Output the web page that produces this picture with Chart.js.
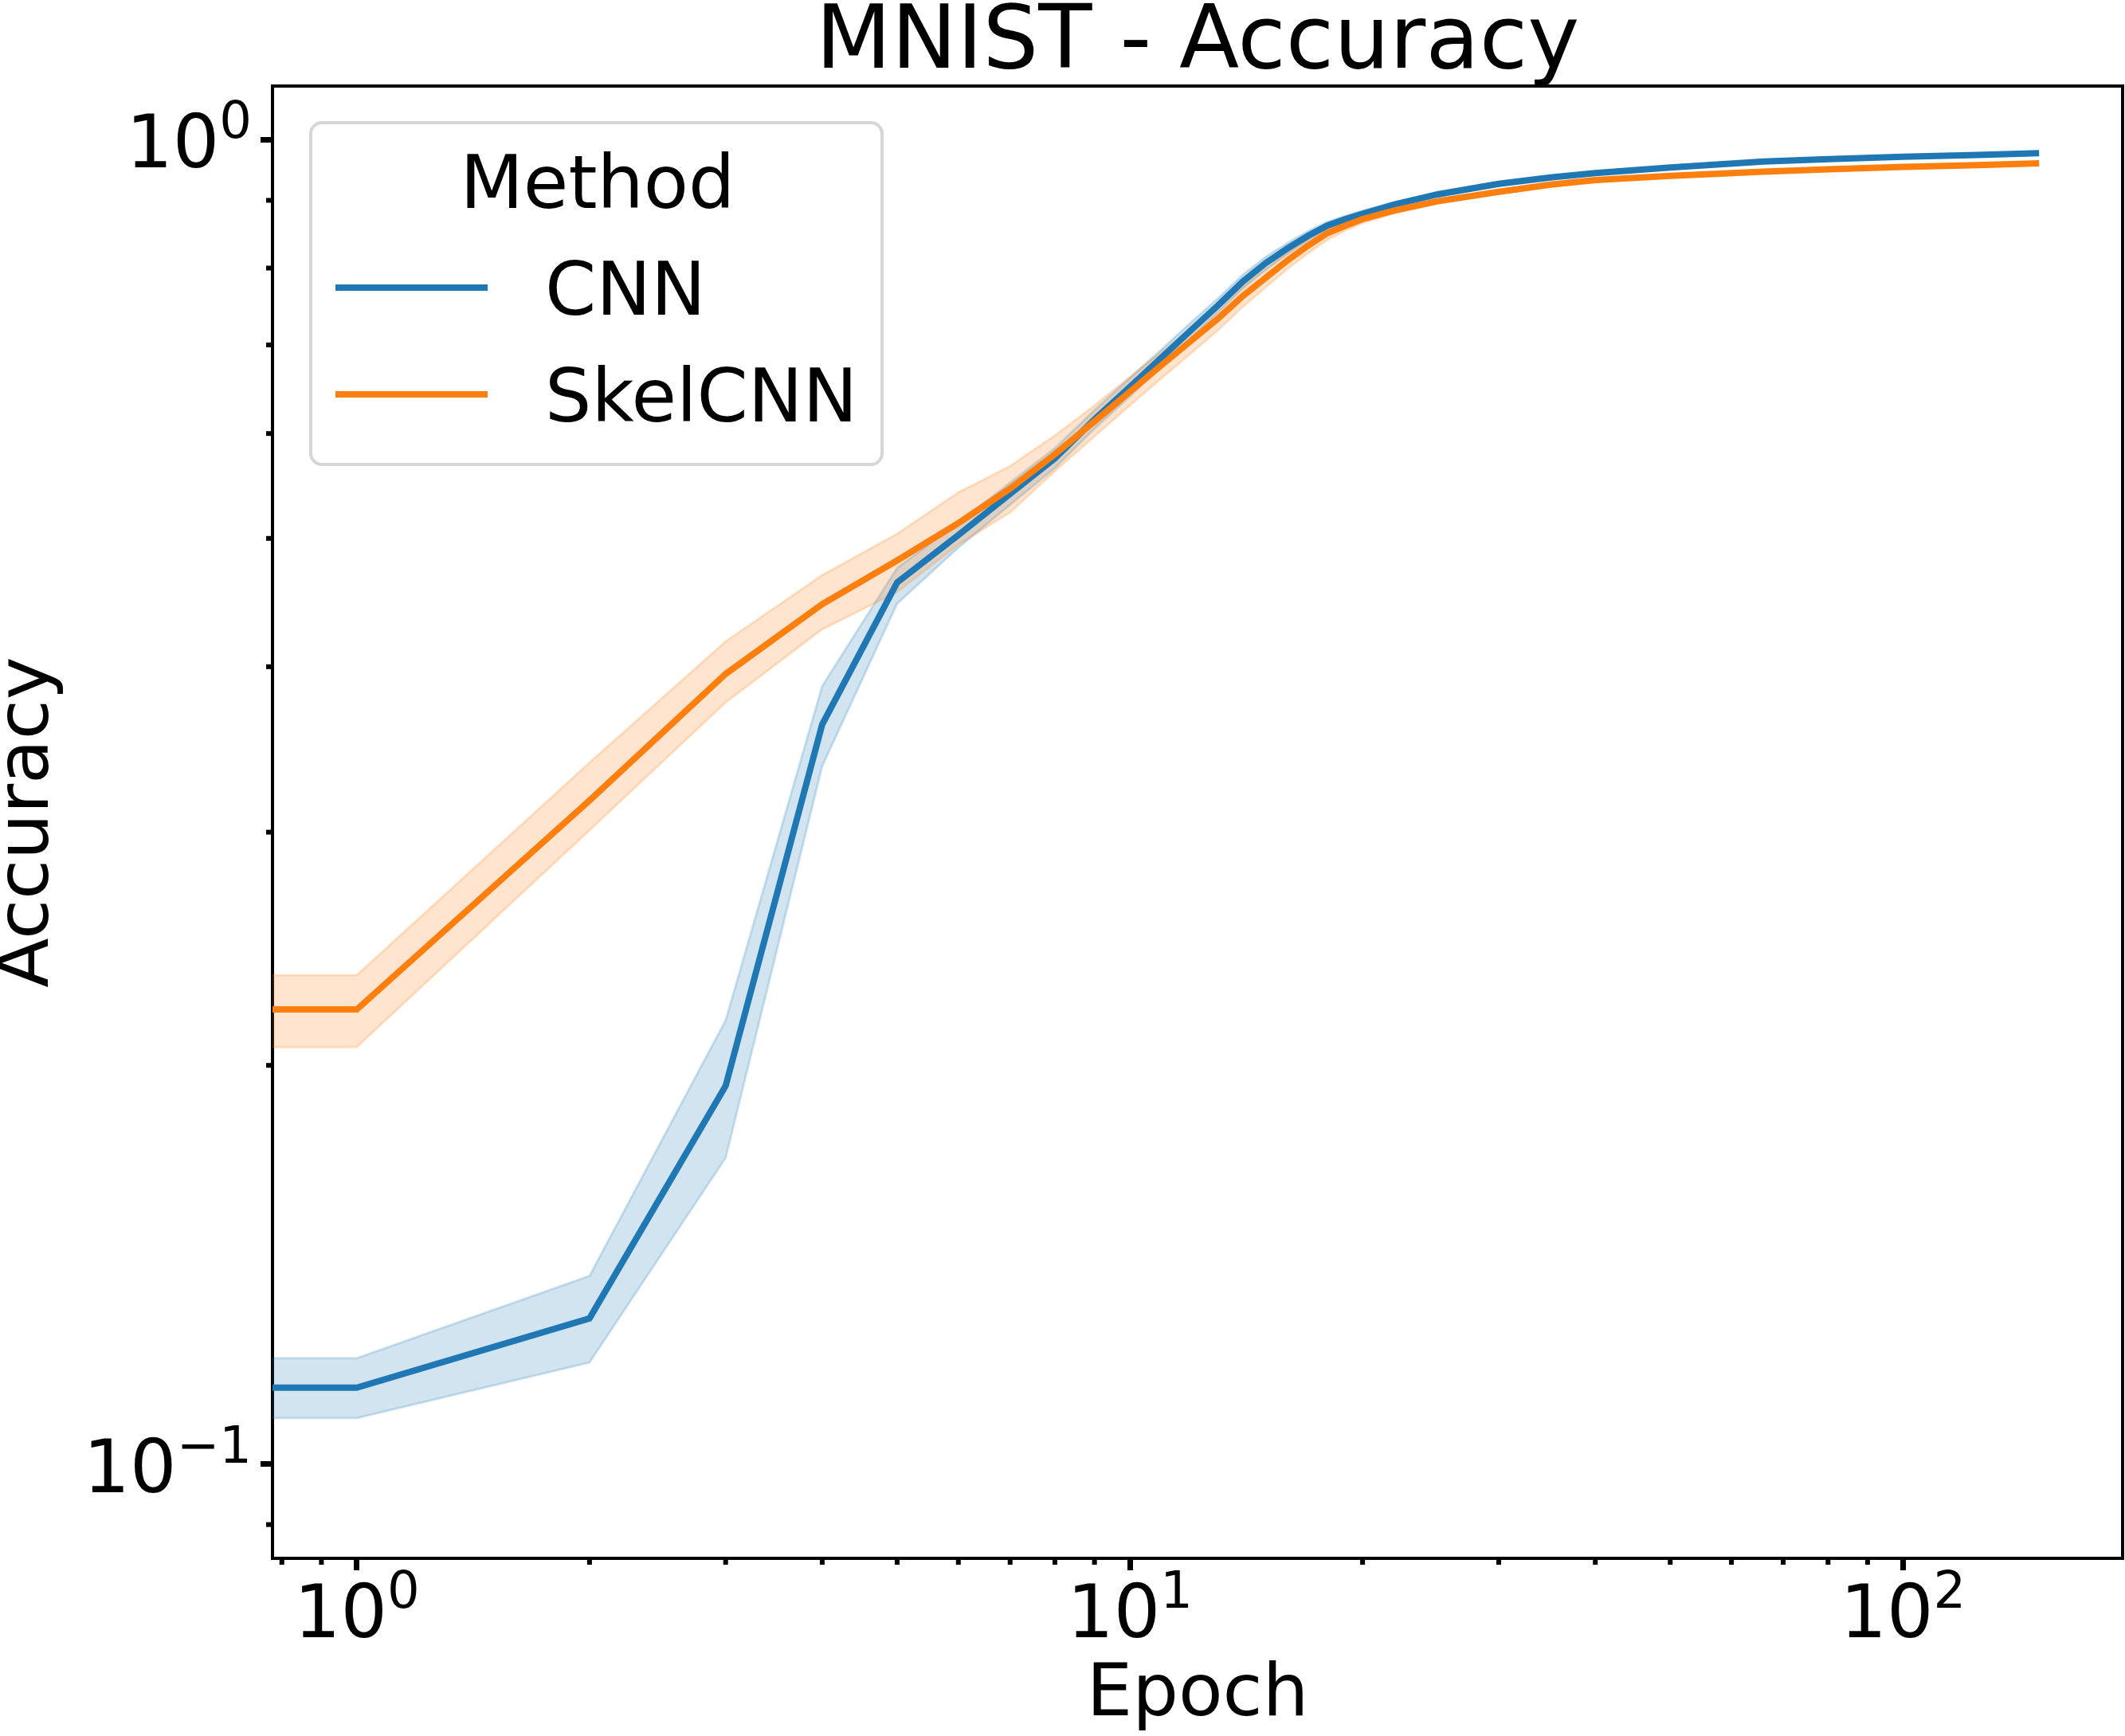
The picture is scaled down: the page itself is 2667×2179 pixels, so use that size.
<!DOCTYPE html>
<html>
<head>
<meta charset="utf-8">
<title>MNIST - Accuracy</title>
<script src="https://cdn.jsdelivr.net/npm/chart.js@4/dist/chart.umd.min.js"></script>
<style>
    html, body { margin: 0; padding: 0; background: #ffffff; }
    #wrap { position: relative; width: 2667px; height: 2179px; }
</style>
</head>
<body>
<div id="wrap"><canvas id="accuracyChart"></canvas></div>
<script>
// Données (epoch 0 = bord gauche de l'axe log)
const epochs = [0, 1, 2, 3, 4, 5, 6, 7, 8, 9, 10, 11, 12, 13, 14, 15, 16, 17, 18, 19, 20, 22, 25, 30, 35, 40, 50, 66, 80, 100, 125, 150];

const cnnMean = [0.1142, 0.1142, 0.1288, 0.1930, 0.3618, 0.4631, 0.5029, 0.5402, 0.5748, 0.6149, 0.6506, 0.6852, 0.7182, 0.7497, 0.7816, 0.8073, 0.8280, 0.8461, 0.8613, 0.8712, 0.8793, 0.8935, 0.9094, 0.9263, 0.9365, 0.9436, 0.9530, 0.9630, 0.9670, 0.9710, 0.9740, 0.9770];
const cnnLow  = [0.1083, 0.1083, 0.1193, 0.1703, 0.3365, 0.4464, 0.4920, 0.5300, 0.5650, 0.6050, 0.6400, 0.6750, 0.7080, 0.7400, 0.7720, 0.7980, 0.8200, 0.8390, 0.8550, 0.8660, 0.8750, 0.8900, 0.9060, 0.9240, 0.9340, 0.9410, 0.9510, 0.9615, 0.9657, 0.9698, 0.9729, 0.9760];
const cnnHigh = [0.1202, 0.1202, 0.1387, 0.2163, 0.3869, 0.4750, 0.5140, 0.5510, 0.5850, 0.6250, 0.6610, 0.6950, 0.7280, 0.7590, 0.7910, 0.8160, 0.8360, 0.8530, 0.8670, 0.8760, 0.8840, 0.8970, 0.9120, 0.9290, 0.9390, 0.9460, 0.9550, 0.9645, 0.9683, 0.9722, 0.9751, 0.9780];

const skelMean = [0.2204, 0.2204, 0.3170, 0.3950, 0.4460, 0.4812, 0.5134, 0.5453, 0.5788, 0.6129, 0.6452, 0.6761, 0.7050, 0.7327, 0.7620, 0.7870, 0.8110, 0.8318, 0.8500, 0.8613, 0.8712, 0.8845, 0.8986, 0.9135, 0.9250, 0.9324, 0.9390, 0.9460, 0.9500, 0.9540, 0.9570, 0.9600];
const skelLow  = [0.2065, 0.2065, 0.3010, 0.3759, 0.4269, 0.4555, 0.4947, 0.5230, 0.5620, 0.5970, 0.6300, 0.6610, 0.6900, 0.7180, 0.7480, 0.7740, 0.7990, 0.8210, 0.8400, 0.8540, 0.8650, 0.8800, 0.8950, 0.9110, 0.9230, 0.9300, 0.9370, 0.9445, 0.9487, 0.9528, 0.9559, 0.9590];
const skelHigh = [0.2340, 0.2340, 0.3386, 0.4180, 0.4691, 0.5040, 0.5416, 0.5670, 0.5980, 0.6300, 0.6620, 0.6920, 0.7200, 0.7470, 0.7750, 0.7990, 0.8220, 0.8420, 0.8580, 0.8680, 0.8770, 0.8890, 0.9020, 0.9160, 0.9270, 0.9340, 0.9410, 0.9475, 0.9513, 0.9552, 0.9581, 0.9610];

const seriesNames = ['CNN', 'SkelCNN'];
const legendTitle = 'Method';

// Axes
const xRange = [0.778, 192.37];
const yRange = [0.08487, 1.0979];
const xTicks = [0.8, 0.9, 1, 2, 3, 4, 5, 6, 7, 8, 9, 10, 20, 30, 40, 50, 60, 70, 80, 90, 100];
const xMajorTicks = [1, 10, 100];
const xExponents = ['0', '1', '2'];
const yTicks = [0.09, 0.1, 0.2, 0.3, 0.4, 0.5, 0.6, 0.7, 0.8, 0.9, 1];
const yMajorTicks = [0.1, 1];
const yExponents = ['\u22121', '0'];

const FONT = "'DejaVu Sans', sans-serif";
const BLUE = '#1f77b4';
const ORANGE = '#ff7f0e';
const BLUE_BAND = 'rgba(31, 119, 180, 0.2)';
const ORANGE_BAND = 'rgba(255, 127, 14, 0.2)';

function points(values) {
    return epochs.map((e, i) => ({ x: e, y: values[i] }));
}

function isMajor(list, v) {
    return list.some(m => Math.abs(m - v) < 1e-9);
}

function lineSet(label, values, color, order) {
    return {
        label: label,
        data: points(values),
        borderColor: color,
        borderWidth: 8,
        pointRadius: 0,
        tension: 0,
        fill: false,
        order: order
    };
}

function bandSet(label, values, color, fill, order) {
    return {
        label: label,
        data: points(values),
        borderColor: color,
        backgroundColor: color,
        borderWidth: 3,
        pointRadius: 0,
        tension: 0,
        fill: fill,
        order: order
    };
}

// Libellé "10" + exposant, comme le mathtext de matplotlib
function drawPower(ctx, exp, x, baseline, align) {
    ctx.font = '92px ' + FONT;
    const w1 = ctx.measureText('10').width;
    ctx.font = '64px ' + FONT;
    const w2 = ctx.measureText(exp).width;
    let x0 = align === 'center' ? x - (w1 + w2) / 2 : x - (w1 + w2);
    ctx.font = '92px ' + FONT;
    ctx.fillText('10', x0, baseline);
    ctx.font = '64px ' + FONT;
    ctx.fillText(exp, x0 + w1, baseline - 37);
}

// Petites graduations, libellés, cadre haut/droite et légende
const framePlugin = {
    id: 'frame',
    afterDraw(chart) {
        const ctx = chart.ctx;
        const area = chart.chartArea;
        const xs = chart.scales.x;
        const ys = chart.scales.y;
        ctx.save();

        ctx.strokeStyle = '#000000';
        ctx.lineWidth = 6;
        xs.ticks.forEach(t => {
            if (isMajor(xMajorTicks, t.value)) return;
            const px = xs.getPixelForValue(t.value);
            ctx.beginPath();
            ctx.moveTo(px, area.bottom);
            ctx.lineTo(px, area.bottom + 8);
            ctx.stroke();
        });
        ys.ticks.forEach(t => {
            if (isMajor(yMajorTicks, t.value)) return;
            const py = ys.getPixelForValue(t.value);
            ctx.beginPath();
            ctx.moveTo(area.left, py);
            ctx.lineTo(area.left - 8, py);
            ctx.stroke();
        });

        ctx.lineWidth = 4;
        ctx.beginPath();
        ctx.moveTo(area.left - 2, area.top);
        ctx.lineTo(area.right, area.top);
        ctx.lineTo(area.right, area.bottom + 2);
        ctx.stroke();

        ctx.fillStyle = '#000000';
        ctx.textBaseline = 'alphabetic';
        ctx.textAlign = 'left';
        xMajorTicks.forEach((v, i) => {
            drawPower(ctx, xExponents[i], xs.getPixelForValue(v), area.bottom + 99, 'center');
        });
        yMajorTicks.forEach((v, i) => {
            drawPower(ctx, yExponents[i], area.left - 26, ys.getPixelForValue(v) + 35, 'right');
        });

        // légende
        ctx.beginPath();
        ctx.roundRect(390, 154, 717, 429, 14);
        ctx.fillStyle = 'rgba(255, 255, 255, 0.8)';
        ctx.fill();
        ctx.lineWidth = 4;
        ctx.strokeStyle = '#d6d6d6';
        ctx.stroke();

        ctx.fillStyle = '#000000';
        ctx.font = '92px ' + FONT;
        ctx.textAlign = 'center';
        ctx.fillText(legendTitle, 750, 261);

        const colors = [BLUE, ORANGE];
        const rows = [361, 495];
        ctx.textAlign = 'left';
        seriesNames.forEach((name, i) => {
            ctx.strokeStyle = colors[i];
            ctx.lineWidth = 8;
            ctx.beginPath();
            ctx.moveTo(421, rows[i]);
            ctx.lineTo(612, rows[i]);
            ctx.stroke();
            ctx.fillText(name, 684, rows[i] + 34);
        });
        ctx.restore();
    }
};

document.addEventListener('DOMContentLoaded', function() {
    const ctx = document.getElementById('accuracyChart').getContext('2d');
    new Chart(ctx, {
        type: 'line',
        data: {
            datasets: [
                bandSet(seriesNames[0] + ' haut', cnnHigh, BLUE_BAND, false, 6),
                bandSet(seriesNames[0] + ' bas', cnnLow, BLUE_BAND, '-1', 5),
                bandSet(seriesNames[1] + ' haut', skelHigh, ORANGE_BAND, false, 4),
                bandSet(seriesNames[1] + ' bas', skelLow, ORANGE_BAND, '-1', 3),
                lineSet(seriesNames[0], cnnMean, BLUE, 2),
                lineSet(seriesNames[1], skelMean, ORANGE, 1)
            ]
        },
        options: {
            responsive: true,
            maintainAspectRatio: false,
            devicePixelRatio: 1,
            animation: false,
            events: [],
            layout: { padding: { left: 0, right: 3, top: 0, bottom: 0 } },
            plugins: {
                legend: { display: false },
                tooltip: { enabled: false },
                title: {
                    display: true,
                    text: 'MNIST - Accuracy',
                    fullSize: false,
                    color: '#000000',
                    font: { family: FONT, size: 110, weight: 'normal', lineHeight: 0.8 },
                    padding: { top: 12, bottom: 8 }
                }
            },
            scales: {
                x: {
                    type: 'logarithmic',
                    position: 'bottom',
                    min: xRange[0],
                    max: xRange[1],
                    bounds: 'data',
                    afterBuildTicks: axis => {
                        axis.ticks = xTicks.map(v => ({ value: v }));
                    },
                    afterFit: axis => { axis.height = 223; },
                    ticks: { display: false, autoSkip: false, maxRotation: 0, minRotation: 0 },
                    grid: {
                        display: true,
                        drawOnChartArea: false,
                        drawTicks: true,
                        tickLength: 15,
                        tickWidth: 7,
                        tickColor: c => (c.tick && isMajor(xMajorTicks, c.tick.value)) ? '#000000' : 'rgba(0,0,0,0)'
                    },
                    border: { display: true, color: '#000000', width: 4 },
                    title: {
                        display: true,
                        text: 'Epoch',
                        color: '#000000',
                        font: { family: FONT, size: 91, lineHeight: 1 },
                        padding: { top: 0, bottom: 4 }
                    }
                },
                y: {
                    type: 'logarithmic',
                    position: 'left',
                    min: yRange[0],
                    max: yRange[1],
                    bounds: 'data',
                    afterBuildTicks: axis => {
                        axis.ticks = yTicks.map(v => ({ value: v }));
                    },
                    afterFit: axis => { axis.width = 342; },
                    ticks: { display: false, autoSkip: false },
                    grid: {
                        display: true,
                        drawOnChartArea: false,
                        drawTicks: true,
                        tickLength: 15,
                        tickWidth: 7,
                        tickColor: c => (c.tick && isMajor(yMajorTicks, c.tick.value)) ? '#000000' : 'rgba(0,0,0,0)'
                    },
                    border: { display: true, color: '#000000', width: 4 },
                    title: {
                        display: true,
                        text: 'Accuracy',
                        color: '#000000',
                        font: { family: FONT, size: 91, lineHeight: 0.8 },
                        padding: { top: 0, bottom: 0 }
                    }
                }
            }
        },
        plugins: [framePlugin]
    });
});
</script>
</body>
</html>
